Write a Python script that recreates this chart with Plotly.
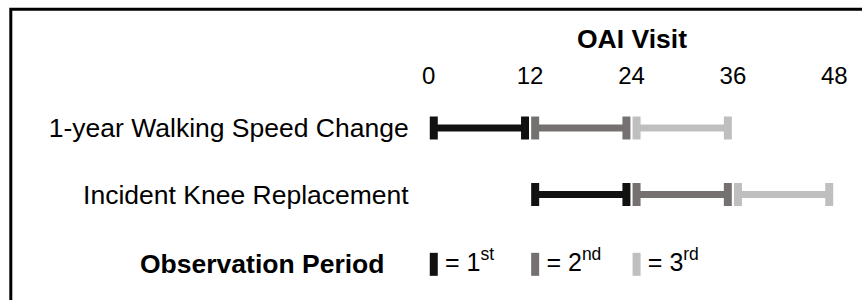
import plotly.graph_objects as go

# ---------------- data ----------------
row_labels = ["1-year Walking Speed Change", "Incident Knee Replacement"]
walking_starts = [0, 12, 24]
walking_ends = [12, 24, 36]
knee_starts = [12, 24, 36]
knee_ends = [24, 36, 48]
period_labels = ["1<sup>st</sup>", "2<sup>nd</sup>", "3<sup>rd</sup>"]
visit_ticks = [0, 12, 24, 36, 48]
axis_title = "OAI Visit"
legend_title = "Observation Period"

# ---------------- style ----------------
W, H = 862, 300
FONT = "Liberation Sans, Arial, Helvetica, sans-serif"
period_colors = ["#111111", "#767171", "#bfbfbf"]
PX_PER_MONTH = 8.45
ORIGIN_PX = 428.7
PLOT_LEFT_PX = 418
PLOT_TOP_PX = 90
ROW0_PX = 128
ROW_STEP_PX = 66.5
INSET_L = 0.6    # months, cap inset at segment start
INSET_R = 0.6    # months, cap inset at segment end
BAR_W = 7
CAP_W = 8
CAP_H = 23
LEGEND_Y = 2.05

x_range = [(PLOT_LEFT_PX - ORIGIN_PX) / PX_PER_MONTH, (W - ORIGIN_PX) / PX_PER_MONTH]
y_range = [(H - ROW0_PX) / ROW_STEP_PX, (PLOT_TOP_PX - ROW0_PX) / ROW_STEP_PX]

fig = go.Figure()

rows = [(walking_starts, walking_ends), (knee_starts, knee_ends)]
for r, (starts, ends) in enumerate(rows):
    for k, (s, e) in enumerate(zip(starts, ends)):
        xs = [s + INSET_L, e - INSET_R]
        fig.add_trace(go.Scatter(
            x=xs, y=[r, r], mode="lines",
            line=dict(color=period_colors[k], width=BAR_W),
            hoverinfo="skip", showlegend=False))
        fig.add_trace(go.Scatter(
            x=xs, y=[r, r], mode="markers",
            marker=dict(symbol="line-ns", size=CAP_H / 1.4,
                        line=dict(color=period_colors[k], width=CAP_W)),
            hoverinfo="skip", showlegend=False))

# legend row (aligned with the periods of the first row)
for k, s in enumerate(walking_starts):
    fig.add_trace(go.Scatter(
        x=[s + INSET_L], y=[LEGEND_Y], mode="markers+text",
        marker=dict(symbol="line-ns", size=CAP_H / 1.4,
                    line=dict(color=period_colors[k], width=CAP_W)),
        text=["= " + period_labels[k]], textposition="middle right",
        textfont=dict(family=FONT, size=25, color="#000000"),
        hoverinfo="skip", showlegend=False, cliponaxis=False))

fig.update_layout(
    width=W, height=H,
    margin=dict(l=0, r=0, t=0, b=0),
    paper_bgcolor="white", plot_bgcolor="white",
    font=dict(family=FONT, color="#000000"),
    xaxis=dict(
        domain=[PLOT_LEFT_PX / W, 1], range=x_range, side="top",
        tickmode="array", tickvals=visit_ticks,
        ticktext=[str(v) for v in visit_ticks],
        tickfont=dict(size=24, family=FONT, color="#000000"),
        showgrid=False, zeroline=False, showline=False, ticks="",
        automargin=False, fixedrange=True),
    yaxis=dict(
        domain=[0, (H - PLOT_TOP_PX) / H], range=y_range,
        tickmode="array", tickvals=list(range(len(row_labels))),
        ticktext=row_labels,
        tickfont=dict(size=26.5, family=FONT, color="#000000"),
        ticks="outside", ticklen=3, tickcolor="rgba(0,0,0,0)",
        showgrid=False, zeroline=False, showline=False,
        automargin=False, fixedrange=True),
    showlegend=False,
    annotations=[
        dict(text="<b>" + axis_title + "</b>", xref="x", yref="paper",
             x=sum(visit_ticks) / len(visit_ticks), y=1 - 39 / H,
             xanchor="center", yanchor="middle", showarrow=False,
             font=dict(size=26.5, family=FONT, color="#000000")),
        dict(text="<b>" + legend_title + "</b>", xref="paper", yref="y",
             x=386 / W, y=LEGEND_Y, xanchor="right", yanchor="middle",
             showarrow=False,
             font=dict(size=26.5, family=FONT, color="#000000")),
    ],
    shapes=[
        dict(type="rect", xref="paper", yref="paper",
             x0=10.8 / W, x1=1.2, y0=-0.2, y1=1 - 9.2 / H,
             line=dict(color="#000000", width=3), fillcolor="rgba(0,0,0,0)"),
    ],
)

fig.write_html(
    "out.html",
    config={"displayModeBar": False},
    post_script="document.body.style.margin='0';document.body.style.padding='0';",
)
